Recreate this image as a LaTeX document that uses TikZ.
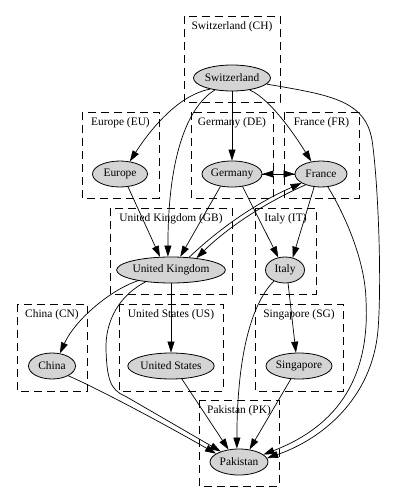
\documentclass[tikz,border=0pt]{standalone}
\usepackage{fontspec}
\setmainfont{Liberation Serif}
\usetikzlibrary{arrows.meta,shapes.geometric}
\begin{document}
\begin{tikzpicture}[x=1pt,y=-1pt,
  every node/.style={font=\fontsize{11.4}{13}\selectfont},
  nd/.style={ellipse,draw=black,fill=black!17,line width=0.8pt,inner sep=0pt,minimum height=26pt},
  clus/.style={draw=black,line width=0.8pt,dash pattern=on 8pt off 5pt},
  clab/.style={inner sep=0pt,anchor=center},
  edge/.style={draw=black,line width=0.7pt,-{Triangle[length=11pt,width=7pt]}}
]
\useasboundingbox (0,0) rectangle (401,503);
% clusters
\draw[clus] (184,16) rectangle (280,102);
\node[clab] (lch) at (232,26.5) {Switzerland (CH)};
\draw[clus] (82,112) rectangle (159,198);
\node[clab] (leu) at (120.5,122.5) {Europe (EU)};
\draw[clus] (191,112) rectangle (273,198);
\node[clab] (lde) at (232,122.5) {Germany (DE)};
\draw[clus] (284,112) rectangle (359,198);
\node[clab] (lfr) at (321.5,122.5) {France (FR)};
\draw[clus] (110,208) rectangle (232,294);
\node[clab] (lgb) at (171,218.5) {United Kingdom (GB)};
\draw[clus] (255,208) rectangle (316,294);
\node[clab] (lit) at (285.5,218.5) {Italy (IT)};
\draw[clus] (17,304) rectangle (87,391);
\node[clab] (lcn) at (52,314.5) {China (CN)};
\draw[clus] (119,304) rectangle (223,391);
\node[clab] (lus) at (171,314.5) {United States (US)};
\draw[clus] (255,304) rectangle (343,391);
\node[clab] (lsg) at (299,314.5) {Singapore (SG)};
\draw[clus] (199,400) rectangle (279,486);
\node[clab] (lpk) at (239,410.5) {Pakistan (PK)};
% nodes
\node[nd,minimum width=74pt] (sw) at (232,78) {Switzerland};
\node[nd,minimum width=55pt] (eu) at (120,174) {Europe};
\node[nd,minimum width=60pt] (de) at (232,174) {Germany};
\node[nd,minimum width=52pt] (fr) at (321,174) {France};
\node[nd,minimum width=100pt] (uk) at (171,270) {United Kingdom};
\node[nd,minimum width=39pt] (it) at (285,270) {Italy};
\node[nd,minimum width=47pt] (cn) at (52,366) {China};
\node[nd,minimum width=82pt] (us) at (171,366) {United States};
\node[nd,minimum width=66pt] (sg) at (299,366) {Singapore};
\node[nd,minimum width=58pt] (pk) at (239,462) {Pakistan};
% edges
\draw[edge] (sw.207) .. controls (178,95) and (150,130) .. (eu.52);
\draw[edge] (sw.215) .. controls (190,105) and (168,150) .. (uk.103);
\draw[edge] (sw) -- (de);
\draw[edge] (sw.326) .. controls (272,100) and (298,140) .. (fr.128);
\draw[edge] (sw.350) .. controls (330,95) and (365,100) .. (372,140) .. controls (378,180) and (382,280) .. (378,330) .. controls (372,400) and (320,440) .. (pk.8);
\draw[edge] (eu.302) -- (uk.130);
\draw[edge] (de) -- (fr);
\draw[edge] (fr) -- (de);
\draw[edge] (de.227) -- (uk.55);
\draw[edge] (de.310) -- (it.118);
\draw[edge] (uk.35) .. controls (221.6,226.3) and (259.6,201.3) .. (fr.205);
\draw[edge] (fr.215) .. controls (264.6,203) and (227.6,227.6) .. (uk.25);
\draw[edge] (fr.242) -- (it.58);
\draw[edge] (fr.298) .. controls (345,215) and (365,260) .. (366,300) .. controls (370,375) and (340,425) .. (pk.17);
\draw[edge] (uk.198) .. controls (110,290) and (75,320) .. (cn.58);
\draw[edge] (uk) -- (us);
\draw[edge] (uk.205) .. controls (120,295) and (105,320) .. (106,350) .. controls (107,378) and (110,390) .. (125,396) -- (pk.150);
\draw[edge] (it.225) .. controls (250,305) and (237,360) .. (pk.99);
\draw[edge] (it.283) -- (sg.103);
\draw[edge] (cn.329) .. controls (90,385) and (150,416) .. (pk.160);
\draw[edge] (us.310) -- (pk.130);
\draw[edge] (sg.238) -- (pk.50);
\end{tikzpicture}
\end{document}
